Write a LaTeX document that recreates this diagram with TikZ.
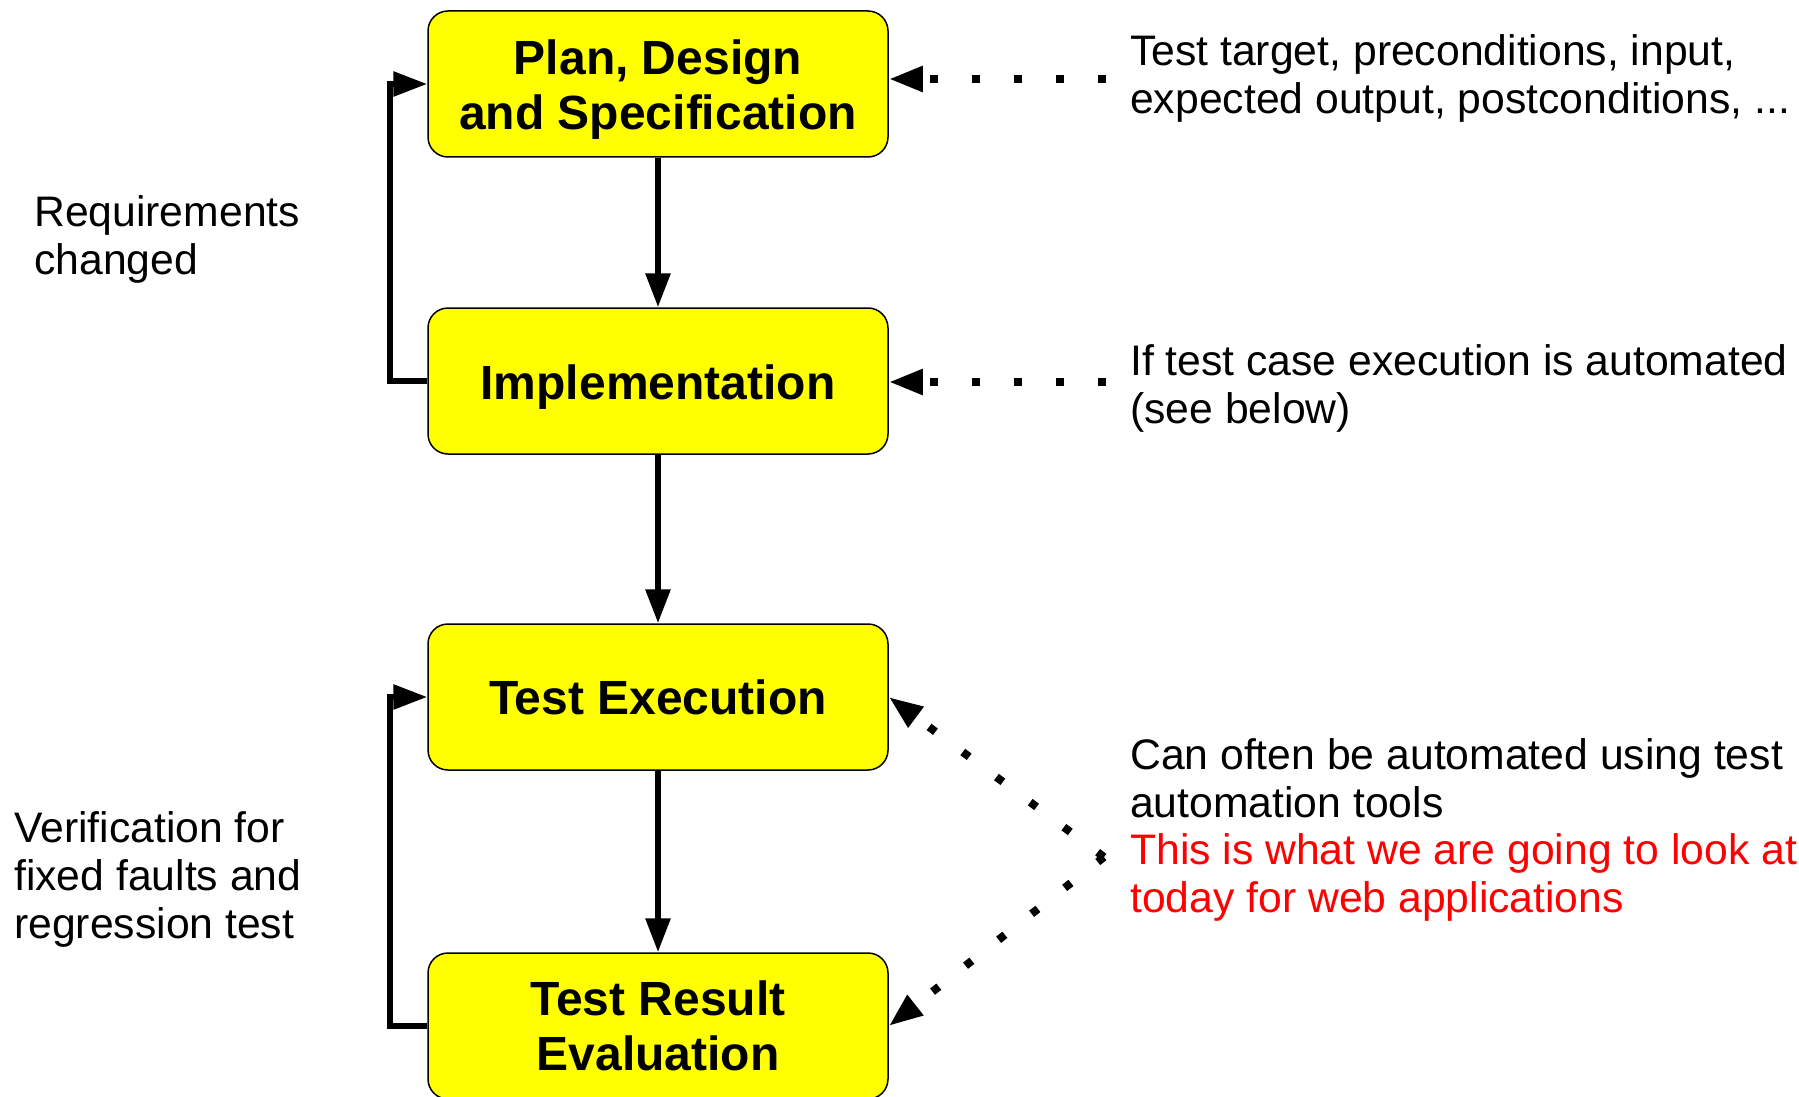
\documentclass[tikz,border=0pt]{standalone}
\usepackage{fontspec}
\setmainfont{Liberation Sans}
\usetikzlibrary{arrows.meta}
\definecolor{boxyellow}{RGB}{255,255,0}
\definecolor{notered}{RGB}{255,0,0}
\newcommand\dropline[1]{\raisebox{-6pt}[\height][\depth]{#1}}
\begin{document}
\begin{tikzpicture}[x=1pt,y=-1pt,
  box/.style={draw=black, line width=1.5pt, fill=boxyellow, rounded corners=20pt,
    minimum width=460pt, minimum height=146pt, inner sep=0pt, align=center,
    font=\fontsize{48}{55}\selectfont\bfseries},
  flow/.style={line width=6pt, line join=miter, -{Triangle[length=34pt,width=24pt]}},
  dots/.style={line width=8pt, dash pattern=on 8pt off 34pt, -{Triangle[length=34pt,width=24pt]}},
  note/.style={anchor=base west, align=left, inner sep=0pt, font=\fontsize{42.7}{48}\selectfont}
]
\useasboundingbox (0,0) rectangle (1799,1097);

\node[box] (b1) at (658,84) {\dropline{Plan, Design}\\\dropline{and Specification}};
\node[box] (b2) at (658,381) {\dropline{Implementation}};
\node[box] (b3) at (658,697) {Test Execution};
\node[box] (b4) at (658,1026) {Test Result\\Evaluation};

\draw[flow] (b1.south) -- (b2.north);
\draw[flow] (b2.south) -- (b3.north);
\draw[flow] (b3.south) -- (b4.north);

\draw[flow] (b2.west) -- ++(-37,0) |- (b1.west);
\draw[flow] (b4.west) -- ++(-37,0) |- (b3.west);

\coordinate (d1) at (1106,79);
\coordinate (d2) at (1106,382);
\coordinate (d3) at (1104,857);
\draw[dots] (d1) -- (d1 -| b1.east);
\draw[dots] (d2) -- (d2 -| b2.east);
\draw[dots] (d3) -- (b3.east);
\draw[dots] (d3) -- (b4.east);

\node[note] (t1) at (1130,114) {Test target, preconditions, input,\\expected output, postconditions, ...};
\node[note] (t2) at (1130,423) {If test case execution is automated\\(see below)};
\node[note] (t3) at (1130,817) {Can often be automated using test\\automation tools};
\node[note, text=notered] (t4) at (1130,912) {This is what we are going to look at\\today for web applications};
\node[note] (t5) at (34,274) {Requirements\\changed};
\node[note] (t6) at (14,938) {Verification for\\fixed faults and\\regression test};
\end{tikzpicture}
\end{document}
